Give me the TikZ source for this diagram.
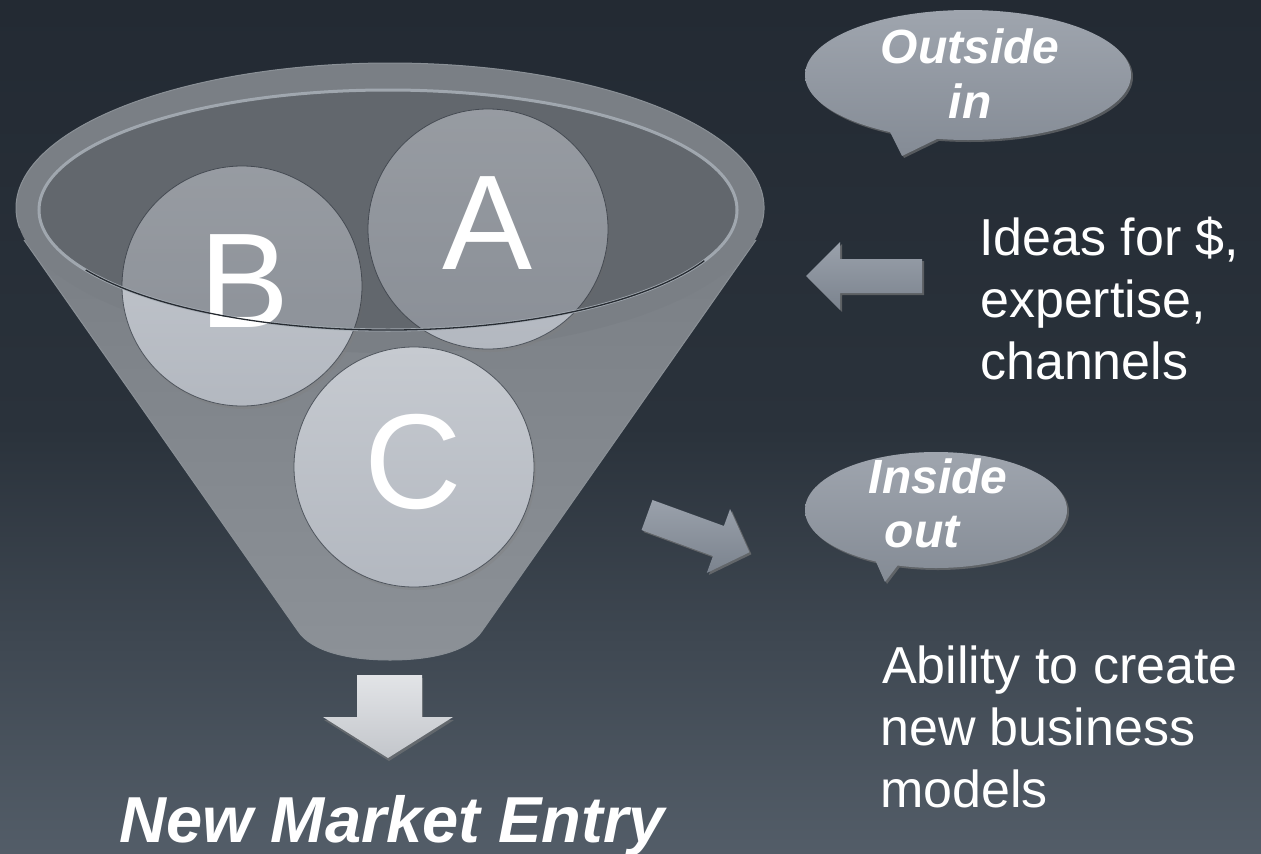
\documentclass[tikz,border=0pt]{standalone}
\usepackage{fontspec}
\setmainfont{Liberation Sans}
\usetikzlibrary{shadows}

\definecolor{bgtop}{HTML}{232A33}
\definecolor{bgmid}{HTML}{2A323B}
\definecolor{bgbot}{HTML}{535D68}
\definecolor{conetop}{HTML}{7A7F85}
\definecolor{conebot}{HTML}{8C9197}
\definecolor{coneedge}{HTML}{8A9096}
\definecolor{ovl}{HTML}{2C3138}
\definecolor{rimlight}{HTML}{A6ADB5}
\definecolor{rimdark}{HTML}{262B31}
\definecolor{circtop}{HTML}{C6CAD0}
\definecolor{circbot}{HTML}{B3B8C0}
\definecolor{circline}{HTML}{50565E}
\definecolor{bubtop}{HTML}{9FA5AE}
\definecolor{bubbot}{HTML}{848B95}
\definecolor{arrtop}{HTML}{9AA1AB}
\definecolor{arrbot}{HTML}{7B838E}
\definecolor{downtop}{HTML}{E2E4E7}
\definecolor{downbot}{HTML}{C3C6CB}

\pgfdeclareverticalshading{bgshade}{100bp}{color(0bp)=(bgbot); color(25bp)=(bgbot); color(50bp)=(bgmid); color(75bp)=(bgtop); color(100bp)=(bgtop)}

\begin{document}
\begin{tikzpicture}[x=1pt,y=-1pt,
  circ/.style={circle,minimum size=240pt,inner sep=0pt,draw=circline,line width=0.8pt,
    top color=circtop,bottom color=circbot,
    drop shadow={opacity=0.35,shadow xshift=2pt,shadow yshift=-3pt}},
  bigletter/.style={text=white,font=\fontsize{135}{135}\selectfont,inner sep=0pt,anchor=base},
  bubble/.style={top color=bubtop,bottom color=bubbot,
    drop shadow={opacity=0.55,shadow xshift=2pt,shadow yshift=-2pt}},
  bubtext/.style={text=white,font=\fontsize{48}{48}\selectfont\bfseries\itshape,inner sep=0pt,anchor=base},
  bodytext/.style={text=white,font=\fontsize{52}{52}\selectfont,inner sep=0pt,anchor=base west},
  blockarrow/.style={top color=arrtop,bottom color=arrbot,
    drop shadow={opacity=0.6,shadow xshift=2pt,shadow yshift=-2pt}},
  downarrow/.style={top color=downtop,bottom color=downbot,
    drop shadow={opacity=0.5,shadow xshift=1pt,shadow yshift=-3pt}}
]
% background
\path[use as bounding box,shading=bgshade] (0,0) rectangle (1261,854);

% funnel cone
\path[top color=conetop,bottom color=conebot]
  (24,240) -- (298,631) .. controls (312,652) and (350,660) .. (390,660)
  .. controls (430,660) and (468,652) .. (482,631) -- (756,240) -- cycle;
\draw[coneedge,line width=1pt] (24,240) -- (298,631) .. controls (312,652) and (350,660) .. (390,660)
  .. controls (430,660) and (468,652) .. (482,631) -- (756,240);
% funnel rim
\fill[conetop] (390,208) ellipse[x radius=374pt,y radius=145pt];
\draw[coneedge,line width=1pt] (390+374*cos 8,208+145*sin 8)
  arc[start angle=-8,end angle=188,x radius=374pt,y radius=145pt];

% circles
\node[circ] (cB) at (242,286) {};
\node[circ] (cA) at (488,229) {};
\node[circ] (cC) at (414,467) {};

% inner opening (semi transparent)
\fill[ovl,opacity=0.3] (388,210) ellipse[x radius=349pt,y radius=120pt];
\draw[rimlight,line width=3pt,opacity=0.9] (388,210) ellipse[x radius=349pt,y radius=120pt];

% letters
\node[bigletter] (lA) at (488,269) {A};
\node[bigletter] (lB) at (245,327) {B};
\node[bigletter] (lC) at (413,508) {C};

% dark lower edge of the opening
\draw[rimdark,line width=1.3pt] (388+349*cos 25,210+120*sin 25)
  arc[start angle=-25,end angle=-150,x radius=349pt,y radius=120pt];

% down arrow
\path[downarrow] (357,675) -- (422,675) -- (422,717) -- (453,717) -- (388,758)
  -- (323,717) -- (357,717) -- cycle;
\node[text=white,font=\fontsize{65}{65}\selectfont\bfseries\itshape,inner sep=0pt,anchor=base]
  (entry) at (392,842) {New Market Entry};

% left arrow
\path[blockarrow] (806,276) -- (840,242) -- (840,259) -- (922,259) -- (922,293)
  -- (840,293) -- (840,310) -- cycle;

% diagonal arrow
\begin{scope}[shift={(647,515)},rotate=-20]
\path[blockarrow] (0,-16) -- (76,-16) -- (76,-34) -- (109,0) -- (76,34) -- (76,16)
  -- (0,16) -- cycle;
\end{scope}

% bubbles
\path[bubble] (968,75) ellipse[x radius=163pt,y radius=65pt]
  (888,128) -- (902,156) -- (943,136) -- cycle;
\node[bubtext] (out1) at (970,63) {Outside};
\node[bubtext] (out2) at (970,118) {in};

\path[bubble] (936,510) ellipse[x radius=131pt,y radius=58pt]
  (873,555) -- (885,582) -- (901,561) -- cycle;
\node[bubtext] (in1) at (938,493) {Inside};
\node[bubtext] (in2) at (922,547) {out};

% texts
\node[bodytext] (idea1) at (979,255) {Ideas for \$,};
\node[bodytext] (idea2) at (980,317) {expertise,};
\node[bodytext] (idea3) at (980,379) {channels};

\node[bodytext] (ab1) at (882,683) {Ability to create};
\node[bodytext] (ab2) at (880,745) {new business};
\node[bodytext] (ab3) at (880,807) {models};
\end{tikzpicture}
\end{document}
